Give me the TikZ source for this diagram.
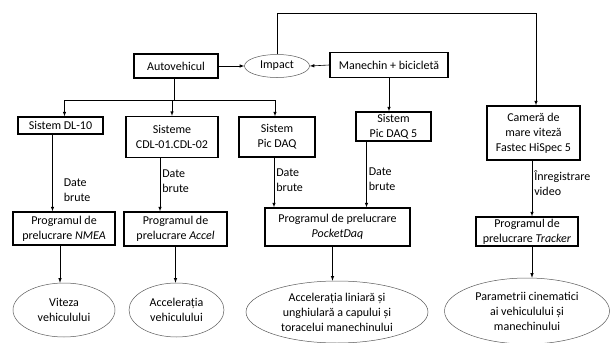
\documentclass[tikz,border=0pt]{standalone}
\usepackage{fontspec}
\setmainfont{Carlito}
\usepackage{tikz}
\usetikzlibrary{shapes.geometric}
\tikzstyle{block} = [rectangle, draw, line width=1.3pt, align=center, inner sep=1pt, font=\fontsize{12}{15}\selectfont]
\tikzstyle{result} = [ellipse, draw=black!65, line width=0.5pt, align=center, inner sep=0pt, font=\fontsize{12}{15}\selectfont]
\tikzstyle{line} = [draw, line width=0.6pt, -latex]
\tikzstyle{lbl} = [right, align=left, inner sep=2pt, font=\fontsize{12}{15}\selectfont]

\begin{document}
\begin{tikzpicture}[x=1pt, y=-1pt]
\useasboundingbox (0,0) rectangle (611,343);
% Top row
\node [block, minimum width=84, minimum height=24] (auto) at (176,66) {Autovehicul};
\node [result, minimum width=65, minimum height=23] (impact) at (277,66) {Impact};
\node [block, minimum width=118, minimum height=25] (manechin) at (389,65) {Manechin + bicicletă};
% Acquisition systems
\node [block, minimum width=85, minimum height=17] (dl) at (60.5,125.5) {Sistem DL-10};
\node [block, minimum width=92, minimum height=41] (cdl) at (172,137) {Sisteme\\CDL-01.CDL-02};
\node [block, minimum width=76, minimum height=40] (picdaq) at (277,137) {Sistem\\Pic DAQ};
\node [block, minimum width=75, minimum height=29] (picdaqv) at (393.5,126.5) {Sistem\\Pic DAQ 5};
\node [block, minimum width=93, minimum height=54] (camera) at (533.5,133) {Cameră de\\mare viteză\\Fastec HiSpec 5};
% Processing programs
\node [block, minimum width=102, minimum height=33] (nmea) at (64,228.5) {Programul de\\prelucrare \textit{NMEA}};
\node [block, minimum width=103, minimum height=34] (accel) at (175.5,229) {Programul de\\prelucrare \textit{Accel}};
\node [block, minimum width=145, minimum height=38] (pocket) at (337.5,227) {Programul de prelucrare\\\textit{PocketDaq}};
\node [block, minimum width=102, minimum height=29] (tracker) at (527,231.5) {Programul de\\prelucrare \textit{Tracker}};
% Results
\node [result, minimum width=102, minimum height=54] (viteza) at (64,310) {Viteza\\vehiculului};
\node [result, minimum width=95, minimum height=54] (acc) at (176.5,310) {Accelerația\\vehiculului};
\node [result, minimum width=182, minimum height=62] (cap) at (337,312) {Accelerația liniară și\\unghiulară a capului și\\toracelui manechinului};
\node [result, minimum width=165, minimum height=66] (param) at (527,311) {Parametrii cinematici\\ai vehiculului și\\manechinului};
% Draw the edges
\coordinate (bus) at (174,100);
\coordinate (topline) at (0,13);
\path [line] (auto) -- (impact);
\path [line] (manechin.west) -- (impact.east);
\path [line] (impact.north) -- (impact.north |- topline) -| ([xshift=2.5]camera.north);
\draw [line width=0.6pt] (auto.south -| bus) -- (bus);
\path [line] (bus) -| ([xshift=4]dl.north);
\path [line] (bus) -| (cdl.north);
\path [line] (bus) -| ([xshift=-2]picdaq.north);
\path [line] (manechin.south) -- (manechin.south |- picdaqv.north);
\path [line] ([xshift=-8]dl.south) -- ([xshift=-8]dl.south |- nmea.north) node [lbl, pos=0.73, xshift=9] {Date\\brute};
\path [line] ([xshift=-12]cdl.south) -- ([xshift=-12]cdl.south |- accel.north) node [lbl, pos=0.43] {Date\\brute};
\path [line] ([xshift=-3]picdaq.south) -- ([xshift=-3]picdaq.south |- pocket.north) node [lbl, pos=0.45] {Date\\brute};
\path [line] ([xshift=-27]picdaqv.south) -- ([xshift=-27]picdaqv.south |- pocket.north) node [lbl, pos=0.57] {Date\\brute};
\path [line] ([xshift=-1.5]camera.south) -- ([xshift=-1.5]camera.south |- tracker.north) node [lbl, pos=0.4] {Înregistrare\\video};
\path [line] ([xshift=-4]nmea.south) -- ([xshift=-4]nmea.south |- viteza.north);
\path [line] (accel.south) -- (accel.south |- acc.north);
\path [line] ([xshift=-5]pocket.south) -- ([xshift=-5]pocket.south |- cap.north);
\path [line] ([xshift=5]tracker.south) -- ([xshift=5]tracker.south |- param.north);
\end{tikzpicture}
\end{document}
